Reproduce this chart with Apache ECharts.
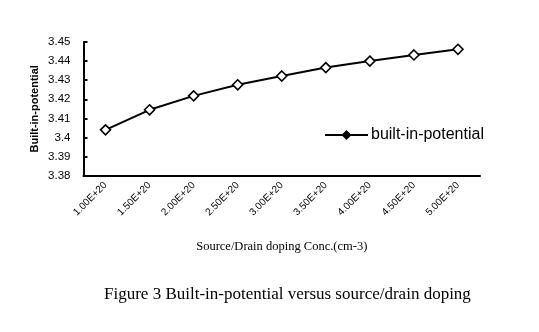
<!DOCTYPE html>
<html>
<head>
<meta charset="utf-8">
<script src="https://cdn.jsdelivr.net/npm/echarts@6/dist/echarts.min.js"></script>
<style>
  html, body { margin: 0; padding: 0; background: #fff; }
  #chart { width: 539px; height: 332px; }
</style>
</head>
<body>
<div id="chart"></div>
<script>
// Source/drain doping concentrations (cm-3)
const dopingLabels = ['1.00E+20', '1.50E+20', '2.00E+20', '2.50E+20', '3.00E+20',
                      '3.50E+20', '4.00E+20', '4.50E+20', '5.00E+20'];
// Built-in potential (V)
const builtInPotential = [3.404, 3.4145, 3.4218, 3.4276, 3.4322, 3.4366, 3.4400, 3.4432, 3.4462];
// Y-axis tick labels
const yTickLabels = ['3.38', '3.39', '3.4', '3.41', '3.42', '3.43', '3.44', '3.45'];

const chart = echarts.init(document.getElementById('chart'));
chart.setOption({
  animation: false,
  backgroundColor: '#fff',
  title: {
    text: 'Figure 3 Built-in-potential versus source/drain doping',
    left: 104,
    top: 286,
    padding: 0,
    textStyle: { fontFamily: 'Liberation Serif', fontSize: 17, fontWeight: 'normal', color: '#000' }
  },
  legend: {
    data: ['built-in-potential'],
    left: 319,
    top: 122,
    itemWidth: 43,
    itemHeight: 9,
    itemGap: 3,
    textStyle: { fontFamily: 'Liberation Sans', fontSize: 16, color: '#000', padding: [0, 0, 0, -2] },
    itemStyle: { color: '#000', borderColor: '#000' }
  },
  grid: { left: 83.5, right: 59, top: 42, bottom: 156.3 },
  xAxis: {
    type: 'category',
    data: dopingLabels,
    boundaryGap: true,
    name: 'Source/Drain doping Conc.(cm-3)',
    nameLocation: 'middle',
    nameGap: 65,
    nameMoveOverlap: false,
    nameTextStyle: { fontFamily: 'Liberation Serif', fontSize: 12.5, color: '#000' },
    axisLine: { lineStyle: { color: '#000', width: 2 } },
    axisTick: { inside: true, length: 4, lineStyle: { color: '#000', width: 2 } },
    axisLabel: {
      rotate: 45,
      margin: 8,
      fontFamily: 'Liberation Sans',
      fontSize: 10,
      color: '#000'
    },
    splitLine: { show: false }
  },
  yAxis: {
    type: 'value',
    min: 3.38,
    max: 3.45,
    interval: 0.01,
    name: 'Built-in-potential',
    nameLocation: 'middle',
    nameGap: 43,
    nameMoveOverlap: false,
    nameRotate: 90,
    nameTextStyle: { fontFamily: 'Liberation Sans', fontSize: 11, fontWeight: 'bold', color: '#000' },
    axisLine: { show: true, lineStyle: { color: '#000', width: 2 } },
    axisTick: { show: true, inside: true, length: 4, lineStyle: { color: '#000', width: 2 } },
    axisLabel: {
      margin: 13,
      fontFamily: 'Liberation Sans',
      fontSize: 11.5,
      color: '#000',
      formatter: function (v) {
        const idx = Math.round((v - 3.38) / 0.01);
        return yTickLabels[idx] !== undefined ? yTickLabels[idx] : '';
      }
    },
    splitLine: { show: false }
  },
  series: [{
    name: 'built-in-potential',
    type: 'line',
    data: builtInPotential,
    symbol: 'diamond',
    symbolSize: 10,
    lineStyle: { color: '#000', width: 2 },
    itemStyle: { color: '#fff', borderColor: '#000', borderWidth: 1.6 }
  }]
});
</script>
</body>
</html>
